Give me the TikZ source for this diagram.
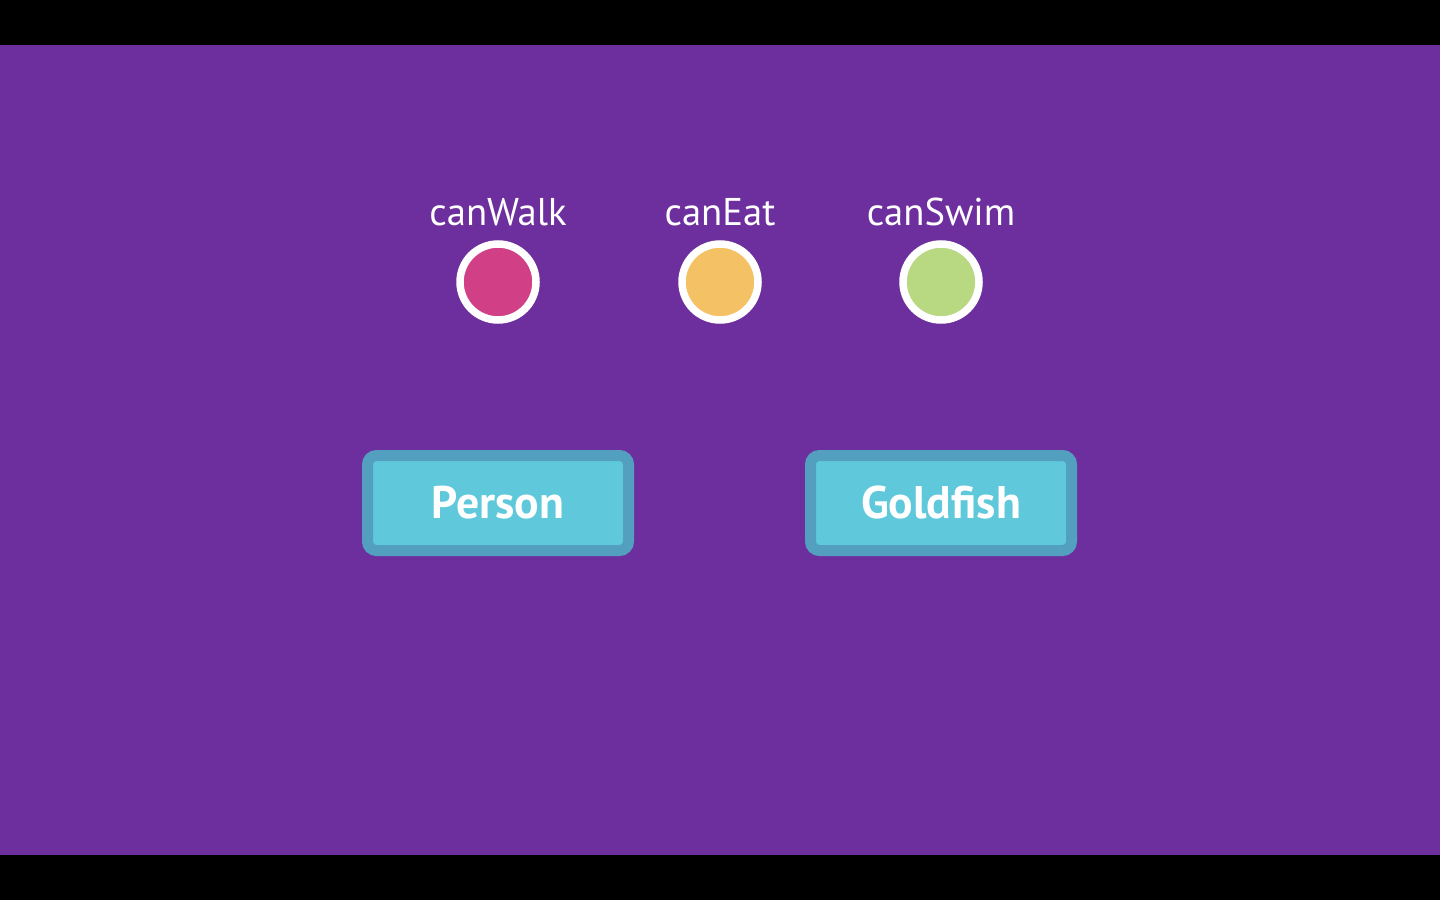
\documentclass[tikz,border=0pt]{standalone}
\usepackage{fontspec}
\setmainfont{PT Sans}
\usetikzlibrary{positioning}
\definecolor{bgpurple}{HTML}{6E2F9E}
\definecolor{boxfill}{HTML}{5FC9DB}
\definecolor{boxedge}{HTML}{529FBF}
\definecolor{walkcol}{HTML}{D13F87}
\definecolor{eatcol}{HTML}{F5C165}
\definecolor{swimcol}{HTML}{B8D882}
\tikzset{
  flag/.style={circle,draw=white,line width=0.75mm,minimum size=7.6mm,inner sep=0pt},
  flaglab/.style={text=white,font=\fontsize{11pt}{12pt}\selectfont,inner sep=0pt},
  kind/.style={rectangle,rounded corners=0.9mm,draw=boxedge,fill=boxfill,line width=1.1mm,
    minimum width=26.1mm,minimum height=9.5mm,text=white,
    font=\bfseries\fontsize{13pt}{14pt}\selectfont}
}
\begin{document}
\begin{tikzpicture}[x=0.1mm,y=-0.1mm]
  %--- Frame -------------------------------------------------------------------
  \fill[black] (0,0) rectangle (1440,900);
  \fill[bgpurple] (0,45) rectangle (1440,855);
  \useasboundingbox (0,0) rectangle (1440,900);

  %--- Flags ---------------------------------------------------------------------
  \node[flag,fill=walkcol] (walk) at (498,282) {};
  \node[flag,fill=eatcol]  (eat)  at (720,282) {};
  \node[flag,fill=swimcol] (swim) at (941,282) {};
  \node[flaglab] at (498,212) {canWalk};
  \node[flaglab] at (720,212) {canEat};
  \node[flaglab] at (941,212) {canSwim};

  %--- Classes -------------------------------------------------------------------
  \node[kind] (person)   at (498,503) {Person};
  \node[kind] (goldfish) at (941,503) {Goldfish};
\end{tikzpicture}
\end{document}
